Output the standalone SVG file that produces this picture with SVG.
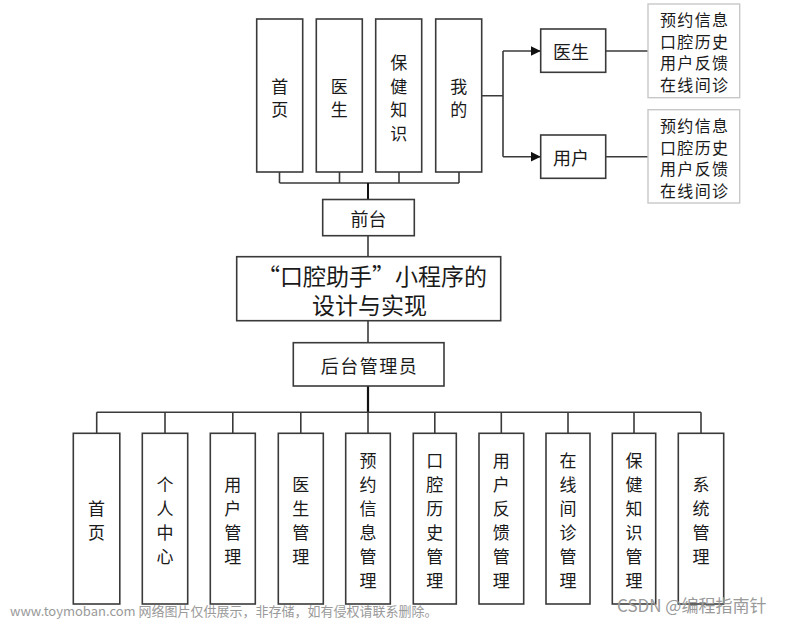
<svg xmlns="http://www.w3.org/2000/svg" width="804" height="624" viewBox="0 0 804 624">
<defs>
<style>
.box{fill:#fff;stroke:#3a3a3a;stroke-width:1.6}
.lbox{fill:#fff;stroke:#c8c8c8;stroke-width:1.4}
.ln{fill:none;stroke:#3a3a3a;stroke-width:1.6}
.t{font-family:"Noto Sans CJK SC","Liberation Sans",sans-serif;font-size:17px;fill:#1a1a1a;text-anchor:middle;dominant-baseline:central}
.big{font-size:23px}
.mid{font-size:18px}
.sm{font-size:16px;letter-spacing:1.4px}
.wm{font-family:"Noto Sans CJK SC","Liberation Sans",sans-serif;fill:#9a9a9a}
</style>
<marker id="arr" viewBox="0 0 10 10" refX="10" refY="5" markerWidth="10" markerHeight="10" markerUnits="userSpaceOnUse" orient="auto">
<path d="M0,0 L10,5 L0,10 z" fill="#111"/>
</marker>
</defs>
<rect width="804" height="624" fill="#fff"/>

<g id="connectors">
<path class="ln" d="M279.5,172 V183 M339.5,172 V183 M399,172 V183 M459,172 V183 M279.5,183 H459"/>
<path class="ln" d="M368,183 V199.5" style="stroke-width:2;stroke:#111"/>
<path class="ln" d="M368,236 V257"/>
<path class="ln" d="M368,321 V343"/>
<path class="ln" d="M368,386 V412" style="stroke-width:2.2;stroke:#111"/>
<path class="ln" d="M482,95.7 H503 M503,51 V156.7"/>
<path class="ln" d="M503,51 H540.7" marker-end="url(#arr)"/>
<path class="ln" d="M503,156.7 H540.7" marker-end="url(#arr)"/>
<path class="ln" d="M606,51 H648 M606,156.7 H648"/>
<path class="ln" d="M96.7,412.3 H701"/>
<path class="ln" d="M96.7,412.3 V433 M165,412.3 V433 M232.8,412.3 V433 M300.8,412.3 V433 M368,412.3 V433 M434.8,412.3 V433 M501.3,412.3 V433 M568,412.3 V433 M634,412.3 V433 M701,412.3 V433"/>
</g>

<g id="top-shouye"><rect class="box" x="256.7" y="19" width="46" height="153"/>
<text class="t" x="279.7"><tspan x="279.7" y="84.5">首</tspan><tspan x="279.7" y="107.5">页</tspan></text></g>
<g id="top-yisheng"><rect class="box" x="316.3" y="19" width="46" height="153"/>
<text class="t"><tspan x="339.3" y="84.5">医</tspan><tspan x="339.3" y="107.5">生</tspan></text></g>
<g id="top-baojian"><rect class="box" x="375.7" y="19" width="46" height="153"/>
<text class="t"><tspan x="398.7" y="61">保</tspan><tspan x="398.7" y="84.5">健</tspan><tspan x="398.7" y="108">知</tspan><tspan x="398.7" y="131.5">识</tspan></text></g>
<g id="top-wode"><rect class="box" x="435.7" y="19" width="46" height="153"/>
<text class="t"><tspan x="458.7" y="84.5">我</tspan><tspan x="458.7" y="107.5">的</tspan></text></g>

<g id="doctor"><rect class="box" x="540.7" y="29" width="65" height="43.3"/>
<text class="t mid" x="571" y="51">医生</text></g>
<g id="user"><rect class="box" x="540.7" y="135" width="65" height="43.3"/>
<text class="t mid" x="571" y="156.7">用户</text></g>

<g id="doctor-funcs"><rect class="lbox" x="648" y="4" width="91.7" height="93.7"/>
<text class="t sm"><tspan x="694.7" y="19">预约信息</tspan><tspan x="694.7" y="40.5">口腔历史</tspan><tspan x="694.7" y="62">用户反馈</tspan><tspan x="694.7" y="83.5">在线间诊</tspan></text></g>
<g id="user-funcs"><rect class="lbox" x="648" y="109.7" width="91.7" height="93.3"/>
<text class="t sm"><tspan x="694.7" y="125">预约信息</tspan><tspan x="694.7" y="146.5">口腔历史</tspan><tspan x="694.7" y="168">用户反馈</tspan><tspan x="694.7" y="189.5">在线间诊</tspan></text></g>

<g id="qiantai"><rect class="box" x="322.7" y="199.5" width="91.6" height="36.2"/>
<text class="t mid" x="368.5" y="218">前台</text></g>

<g id="main"><rect class="box" x="236.7" y="256.7" width="264" height="64"/>
<text class="t big"><tspan x="372" y="275">“口腔助手”小程序的</tspan><tspan x="369.5" y="304">设计与实现</tspan></text></g>

<g id="houtai"><rect class="box" x="293.3" y="342.7" width="150.7" height="43.3"/>
<text class="t mid" x="369.5" y="365" letter-spacing="1.5">后台管理员</text></g>

<g id="b-shouye"><rect class="box" x="73.3" y="433.3" width="46.5" height="170.7"/>
<text class="t"><tspan x="96.6" y="506.5">首</tspan><tspan x="96.6" y="530.5">页</tspan></text></g>
<g id="b-geren"><rect class="box" x="142.3" y="433.3" width="45.4" height="170.7"/>
<text class="t"><tspan x="165" y="482.5">个</tspan><tspan x="165" y="506.5">人</tspan><tspan x="165" y="530.5">中</tspan><tspan x="165" y="554.5">心</tspan></text></g>
<g id="b-yonghu"><rect class="box" x="210.3" y="433.3" width="45" height="170.7"/>
<text class="t"><tspan x="232.8" y="482.5">用</tspan><tspan x="232.8" y="506.5">户</tspan><tspan x="232.8" y="530.5">管</tspan><tspan x="232.8" y="554.5">理</tspan></text></g>
<g id="b-yisheng"><rect class="box" x="278.3" y="433.3" width="45" height="170.7"/>
<text class="t"><tspan x="300.8" y="482.5">医</tspan><tspan x="300.8" y="506.5">生</tspan><tspan x="300.8" y="530.5">管</tspan><tspan x="300.8" y="554.5">理</tspan></text></g>
<g id="b-yuyue"><rect class="box" x="345.7" y="433.3" width="44.6" height="170.7"/>
<text class="t"><tspan x="368" y="459">预</tspan><tspan x="368" y="483">约</tspan><tspan x="368" y="507">信</tspan><tspan x="368" y="531">息</tspan><tspan x="368" y="555">管</tspan><tspan x="368" y="579">理</tspan></text></g>
<g id="b-kouqiang"><rect class="box" x="413.3" y="433.3" width="43" height="170.7"/>
<text class="t"><tspan x="434.8" y="459">口</tspan><tspan x="434.8" y="483">腔</tspan><tspan x="434.8" y="507">历</tspan><tspan x="434.8" y="531">史</tspan><tspan x="434.8" y="555">管</tspan><tspan x="434.8" y="579">理</tspan></text></g>
<g id="b-fankui"><rect class="box" x="479" y="433.3" width="44.7" height="170.7"/>
<text class="t"><tspan x="501.3" y="459">用</tspan><tspan x="501.3" y="483">户</tspan><tspan x="501.3" y="507">反</tspan><tspan x="501.3" y="531">馈</tspan><tspan x="501.3" y="555">管</tspan><tspan x="501.3" y="579">理</tspan></text></g>
<g id="b-zaixian"><rect class="box" x="546" y="433.3" width="44" height="170.7"/>
<text class="t"><tspan x="568" y="459">在</tspan><tspan x="568" y="483">线</tspan><tspan x="568" y="507">间</tspan><tspan x="568" y="531">诊</tspan><tspan x="568" y="555">管</tspan><tspan x="568" y="579">理</tspan></text></g>
<g id="b-baojian"><rect class="box" x="612.3" y="433.3" width="43.4" height="170.7"/>
<text class="t"><tspan x="634" y="459">保</tspan><tspan x="634" y="483">健</tspan><tspan x="634" y="507">知</tspan><tspan x="634" y="531">识</tspan><tspan x="634" y="555">管</tspan><tspan x="634" y="579">理</tspan></text></g>
<g id="b-xitong"><rect class="box" x="678.3" y="433.3" width="45.4" height="170.7"/>
<text class="t"><tspan x="701" y="482.5">系</tspan><tspan x="701" y="506.5">统</tspan><tspan x="701" y="530.5">管</tspan><tspan x="701" y="554.5">理</tspan></text></g>

<g id="watermarks">
<text class="wm" x="10" y="616" font-size="13">www.toymoban.com 网络图片仅供展示，非存储，如有侵权请联系删除。</text>
<text class="wm" x="617" y="612" font-size="17" fill="#8a8a8a">CSDN @编程指南针</text>
</g>
</svg>
